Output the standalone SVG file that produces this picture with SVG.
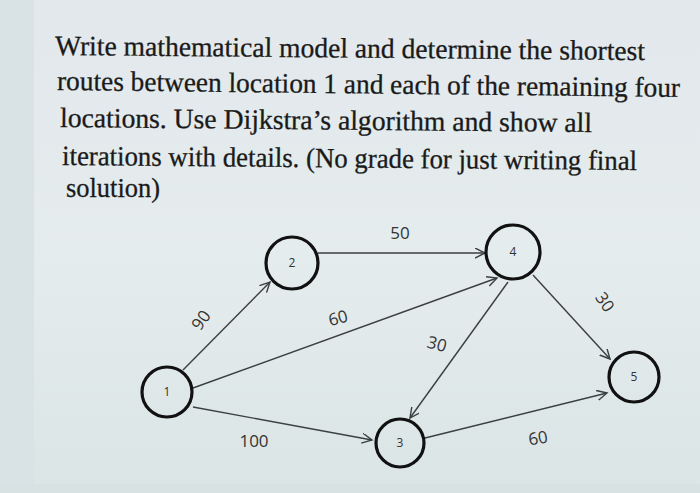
<svg xmlns="http://www.w3.org/2000/svg" width="700" height="493" viewBox="0 0 700 493">
<defs>
<linearGradient id="bg" x1="0" y1="0" x2="0" y2="1">
<stop offset="0" stop-color="#e2e8ec"/>
<stop offset="0.5" stop-color="#e5eced"/>
<stop offset="1" stop-color="#dbe5e5"/>
</linearGradient>
<marker id="arr" markerWidth="12" markerHeight="12" refX="10" refY="5" orient="auto" markerUnits="userSpaceOnUse">
<path d="M0,0 L10,5 L0,10" fill="none" stroke="#3a3f42" stroke-width="1.4"/>
</marker>
<style>
.q{font-family:"Liberation Serif","Times New Roman",serif;font-size:28px;fill:#1a1a1a;stroke:#1a1a1a;stroke-width:0.3}
.n{fill:none;stroke:#111;stroke-width:3.2}
.nt{font-family:"Open Sans","Liberation Sans",sans-serif;font-size:12px;fill:#333;text-anchor:middle}
.e{stroke:#3a3f42;stroke-width:1.4;fill:none;marker-end:url(#arr)}
.l{font-family:"Open Sans","Liberation Sans",sans-serif;font-size:17px;fill:#333;text-anchor:middle}
</style>
</defs>
<rect width="700" height="493" fill="url(#bg)"/>
<rect x="0" y="0" width="34" height="493" fill="#d9e2e4"/>
<rect x="0" y="484" width="700" height="9" fill="#d8e2e3"/>
<g id="question">
<text class="q" x="55" y="55" textLength="590" lengthAdjust="spacingAndGlyphs" transform="rotate(0.5 55 55)">Write mathematical model and determine the shortest</text>
<text class="q" x="57" y="90" textLength="623" lengthAdjust="spacingAndGlyphs" transform="rotate(0.64 57 90)">routes between location 1 and each of the remaining four</text>
<text class="q" x="60" y="127" textLength="532" lengthAdjust="spacingAndGlyphs" transform="rotate(0.54 60 127)">locations. Use Dijkstra’s algorithm and show all</text>
<text class="q" x="62" y="165" textLength="575" lengthAdjust="spacingAndGlyphs" transform="rotate(0.5 62 165)">iterations with details. (No grade for just writing final</text>
<text class="q" x="66" y="197" textLength="94" lengthAdjust="spacingAndGlyphs">solution)</text>
</g>
<g id="connectors">
<line class="e" x1="183" y1="370" x2="270" y2="282"/>
<line class="e" x1="193" y1="388" x2="497" y2="278"/>
<line class="e" x1="193" y1="407" x2="372" y2="440"/>
<line class="e" x1="318" y1="253" x2="485" y2="253"/>
<line class="e" x1="508" y1="282" x2="410" y2="418"/>
<line class="e" x1="533" y1="275" x2="610" y2="359"/>
<line class="e" x1="425" y1="438" x2="607" y2="393"/>
<text class="l" x="400" y="239">50</text>
<text class="l" transform="translate(201 320) rotate(-55)" y="6">90</text>
<text class="l" transform="translate(338 318) rotate(-15)" y="6">60</text>
<text class="l" x="254" y="447">100</text>
<text class="l" transform="translate(437 344) rotate(15)" y="6">30</text>
<text class="l" transform="translate(605 302) rotate(55)" y="6">30</text>
<text class="l" transform="translate(538 438) rotate(-10)" y="6">60</text>
</g>
<g id="node1"><circle class="n" cx="167" cy="392" r="25"/><text class="nt" x="167" y="396">1</text></g>
<g id="node2"><circle class="n" cx="292" cy="263" r="26"/><text class="nt" x="292" y="267">2</text></g>
<g id="node3"><circle class="n" cx="400" cy="443" r="24"/><text class="nt" x="400" y="447">3</text></g>
<g id="node4"><circle class="n" cx="513" cy="252" r="27"/><text class="nt" x="513" y="256">4</text></g>
<g id="node5"><circle class="n" cx="634" cy="377" r="25"/><text class="nt" x="634" y="381">5</text></g>
</svg>
